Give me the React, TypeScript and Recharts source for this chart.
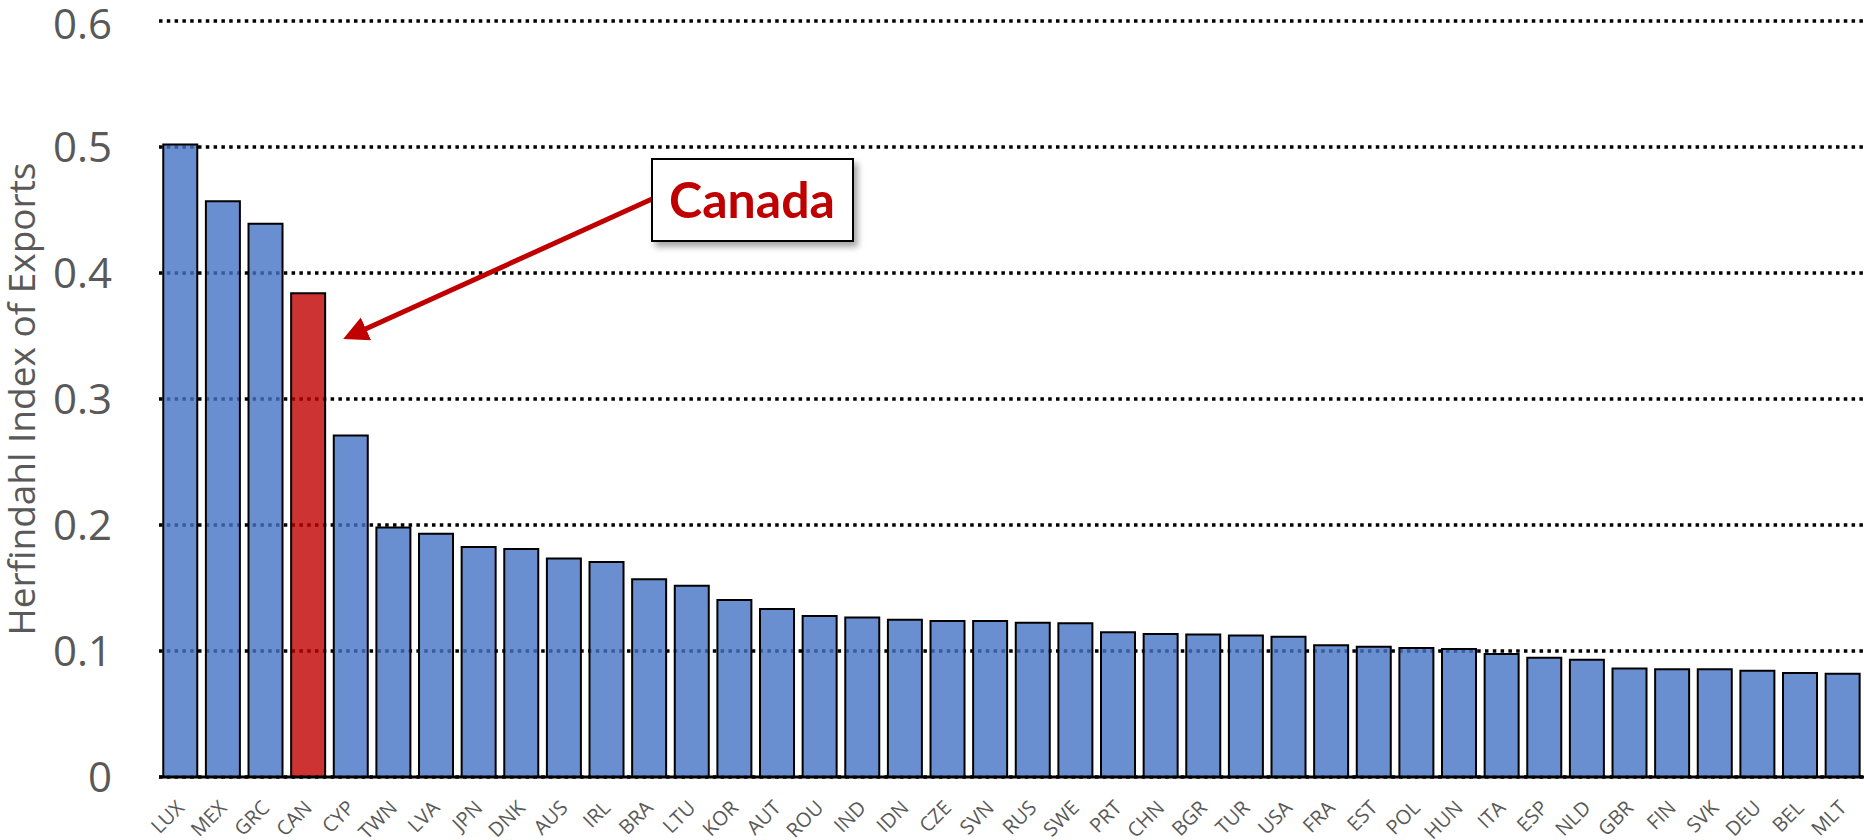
import React from "react";
import { BarChart, Bar, XAxis, YAxis, CartesianGrid, Cell } from "recharts";

const countries = [
  "LUX", "MEX", "GRC", "CAN", "CYP", "TWN", "LVA", "JPN", "DNK", "AUS",
  "IRL", "BRA", "LTU", "KOR", "AUT", "ROU", "IND", "IDN", "CZE", "SVN",
  "RUS", "SWE", "PRT", "CHN", "BGR", "TUR", "USA", "FRA", "EST", "POL",
  "HUN", "ITA", "ESP", "NLD", "GBR", "FIN", "SVK", "DEU", "BEL", "MLT",
];

const herfindahl = [
  0.502, 0.457, 0.439, 0.384, 0.271, 0.198, 0.193, 0.1825, 0.181, 0.1735,
  0.1706, 0.157, 0.1518, 0.1405, 0.1333, 0.1278, 0.1265, 0.1249, 0.1238, 0.1238,
  0.1225, 0.122, 0.1148, 0.1135, 0.113, 0.1124, 0.1114, 0.1045, 0.1034, 0.1024,
  0.1016, 0.0976, 0.0947, 0.0931, 0.0862, 0.0855, 0.0855, 0.0844, 0.0825, 0.082,
];

const yTicks = [0, 0.1, 0.2, 0.3, 0.4, 0.5, 0.6];
const highlight = "CAN";

const data = countries.map((c, i) => ({ name: c, value: herfindahl[i] }));

const FONT = "'Open Sans', sans-serif";

const XTick = (props: any) => {
  const { x, y, payload } = props;
  return (
    <g transform={`translate(${x + 5},${y + 30})`}>
      <text
        x={0}
        y={0}
        textAnchor="end"
        transform="rotate(-45)"
        fill="#595959"
        fontSize={20}
        fontFamily={FONT}
      >
        {payload.value}
      </text>
    </g>
  );
};

const YTitle = (props: any) => {
  const vb = props.viewBox;
  const cx = 35;
  const cy = vb.y + vb.height / 2;
  return (
    <text
      x={cx}
      y={cy}
      textAnchor="middle"
      transform={`rotate(-90 ${cx} ${cy})`}
      fill="#595959"
      fontSize={37}
      fontFamily={FONT}
    >
      Herfindahl Index of Exports
    </text>
  );
};

// callout pointing at the Canada bar
const Callout = () => (
  <svg
    width={1864}
    height={840}
    style={{ position: "absolute", left: 0, top: 0, pointerEvents: "none" }}
  >
    <defs>
      <filter id="shadow" x="-10%" y="-10%" width="130%" height="140%">
        <feDropShadow dx="4" dy="5" stdDeviation="3" floodColor="#000" floodOpacity="0.35" />
      </filter>
      <marker id="head" markerWidth="5" markerHeight="5" refX="3.5" refY="2.5" orient="auto">
        <path d="M0,0 L5,2.5 L0,5 z" fill="#C00000" />
      </marker>
    </defs>
    <line x1={652} y1={199} x2={350} y2={336} stroke="#C00000" strokeWidth={5} markerEnd="url(#head)" />
    <rect x={652} y={159} width={201} height={82} fill="#fff" stroke="#000" strokeWidth={2} filter="url(#shadow)" />
    <text
      x={752}
      y={218}
      textAnchor="middle"
      fill="#C00000"
      fontSize={50}
      fontWeight={700}
      fontFamily="Lato, sans-serif"
    >
      Canada
    </text>
  </svg>
);

const App: React.FC = () => {
  return (
    <div style={{ position: "absolute", left: 0, top: 0, width: 1864, height: 840, background: "#fff" }}>
      <BarChart
        width={1864}
        height={840}
        data={data}
        margin={{ top: 21, right: 0, bottom: 0, left: 0 }}
        barCategoryGap="10%"
      >
        <CartesianGrid
          vertical={false}
          stroke="#000"
          strokeWidth={3.5}
          strokeDasharray="3.5 4.3"
        />
        <XAxis
          dataKey="name"
          interval={0}
          height={63}
          tickLine={false}
          tickSize={0}
          axisLine={{ stroke: "#000", strokeWidth: 3 }}
          tick={<XTick />}
        />
        <YAxis
          width={159}
          domain={[0, 0.6]}
          ticks={yTicks}
          axisLine={false}
          tickLine={false}
          tickSize={0}
          tickMargin={47}
          tick={{ fill: "#595959", fontSize: 42, fontFamily: FONT }}
          label={<YTitle />}
        />
        <Bar
          dataKey="value"
          stroke="#000"
          strokeWidth={2}
          fillOpacity={0.8}
          isAnimationActive={false}
        >
          {data.map((d) => (
            <Cell key={d.name} fill={d.name === highlight ? "#C00000" : "#4573C4"} />
          ))}
        </Bar>
      </BarChart>
      <Callout />
    </div>
  );
};

export default App;
